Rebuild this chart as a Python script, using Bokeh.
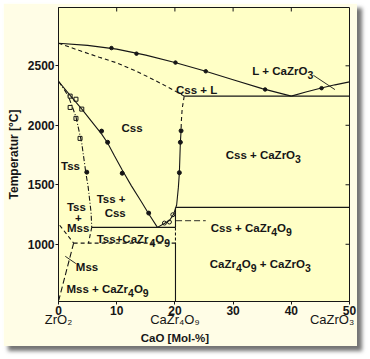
from bokeh.plotting import figure
from bokeh.models import LinearAxis, Label, FixedTicker
from bokeh.embed import file_html
from bokeh.resources import INLINE

FONT = "Liberation Sans"
INK = "#161616"

# ---------------- data ----------------
x_ticks = [0, 10, 20, 30, 40, 50]
y_ticks = [1000, 1500, 2000, 2500]
top_ticks = [10, 20, 30, 40]
compound_ticks = [0, 20, 47]
compound_names = ["ZrO₂", "CaZr₄O₉", "CaZrO₃"]

# liquidus
liq_l_x = [0, 5, 10, 15, 20, 25, 30, 35, 40]
liq_l_y = [2690, 2672, 2640, 2590, 2528, 2458, 2383, 2308, 2245]
liq_r_x = [40, 42.5, 45, 47.5, 50]
liq_r_y = [2245, 2280, 2312, 2340, 2365]
liq_pts_x = [9.1, 13.4, 20.1, 25.3, 35.5, 45.2]
liq_pts_y = [2649, 2602, 2527, 2454, 2301, 2312]

# solidus of Css (dashed)
sol_x = [0, 3.5, 7, 10, 13, 16, 19, 21.6]
sol_y = [2690, 2630, 2572, 2525, 2462, 2392, 2316, 2245]

# eutectic
eut_T = 2245
eut_x = [21.6, 50]

# Css right boundary
css_top_x = [21.6, 21.25, 21.1, 21.06]
css_top_y = [2245, 2140, 2030, 1954]
css_r_x = [21.06, 20.94, 20.77, 20.6, 20.3, 19.8, 19.06, 18.1, 17.0]
css_r_y = [1954, 1857, 1602, 1480, 1330, 1255, 1200, 1172, 1142]
css_r_pts_x = [21.06, 20.94, 20.77]
css_r_pts_y = [1954, 1857, 1602]

# Css left boundary
css_l_x = [0, 1.96, 4.01, 6.05, 7.42, 8.44, 9.63, 10.95, 12.53, 14.24, 15.6, 17.0]
css_l_y = [2370, 2253, 2136, 2010, 1926, 1851, 1742, 1625, 1491, 1357, 1248, 1142]
css_l_pts_x = [7.4, 8.44, 10.95, 15.5]
css_l_pts_y = [1951, 1857, 1597, 1262]

# Tss boundary
tss_x = [0, 1.0, 1.74, 3.0, 4.0, 4.7, 5.1, 5.35, 5.6, 5.71]
tss_y = [2370, 2300, 2239, 2071, 1848, 1600, 1480, 1374, 1265, 1142]
tss_low_x = [5.71, 5.15]
tss_low_y = [1142, 1010]
tss_pts_x = [4.86]
tss_pts_y = [1606]
sq_x = [2.0, 3.0, 4.0, 2.0, 3.0, 3.7]
sq_y = [2245, 2219, 2136, 2150, 2058, 1890]
eutd_pts_x = [18.2, 19.06, 19.64]
eutd_pts_y = [1178, 1187, 1248]

# horizontal invariants
T_eutectoid = 1142
eutd_line_x = [5.71, 20.1]
T_low = 1010
low_line_x = [2.6, 20.1]
T_css = 1310
css_line_x = [20.2, 50]

# CaZr4O9 compound line
x_comp = 20.1
comp_solid_hi = [1310, 1142]
comp_dash = [1142, 1010]
comp_solid_lo = [1010, 519]

# monoclinic side
mss_a_x = [0.2, 2.6]
mss_a_y = [1160, 1010]
mss_b_x = [2.6, 0.05]
mss_b_y = [1010, 530]

# leader lines
lead_l_x = [43.8, 47.5]
lead_l_y = [2420, 2300]
lead_c_x = [20.2, 25.3]
lead_c_y = [1198, 1198]
lead_m_x = [1.16, 2.98]
lead_m_y = [899, 838]

# ---------------- figure ----------------
X0, X1 = 0, 50
Y0, Y1 = 519, 2990
FW, FH = 293, 295

p = figure(width=354, height=343, x_range=(X0, X1), y_range=(Y0, Y1),
           output_backend="svg", toolbar_location=None,
           min_border_left=53, min_border_right=8, min_border_top=4,
           min_border_bottom=41)
p.title.visible = False
p.background_fill_color = "#ffffc6"
p.border_fill_color = "#fffde6"
p.outline_line_color = INK
p.grid.visible = False
p.styles = {"margin-left": "3px", "margin-top": "3px",
            "box-shadow": "5px 5px 4px rgba(0,0,0,0.55)"}

xa = p.xaxis[0]
ya = p.yaxis[0]
xa.ticker = FixedTicker(ticks=x_ticks)
ya.ticker = FixedTicker(ticks=y_ticks)
for ax in (xa, ya):
    ax.major_label_text_font = FONT
    ax.major_label_text_font_style = "bold"
    ax.major_label_text_font_size = "12px"
    ax.major_label_text_color = INK
    ax.major_tick_in = 0
    ax.major_tick_out = 3
    ax.major_tick_line_color = INK
    ax.minor_tick_line_color = None
    ax.axis_line_color = INK
    ax.major_label_standoff = 1
ya.axis_label = "Temperatur [°C]"
ya.axis_label_text_font = FONT
ya.axis_label_text_font_style = "bold"
ya.axis_label_text_font_size = "12px"
ya.axis_label_text_color = INK
ya.axis_label_standoff = 4

# compound names below the composition axis
comp_axis = LinearAxis(ticker=FixedTicker(ticks=compound_ticks),
                       major_label_overrides=dict(zip(compound_ticks, compound_names)),
                       major_tick_in=0, major_tick_out=0, major_tick_line_color=None,
                       minor_tick_line_color=None, axis_line_color=None,
                       major_label_standoff=-6, major_label_text_font=FONT,
                       major_label_text_font_size="13px", major_label_text_color=INK)
p.add_layout(comp_axis, "below")
title_axis = LinearAxis(ticker=FixedTicker(ticks=[20]),
                        major_label_overrides={20: "CaO [Mol-%]"},
                        major_tick_in=0, major_tick_out=0, major_tick_line_color=None,
                        minor_tick_line_color=None, axis_line_color=None,
                        major_label_standoff=2, major_label_text_font=FONT,
                        major_label_text_font_style="bold",
                        major_label_text_font_size="11.5px", major_label_text_color=INK)
p.add_layout(title_axis, "below")

# inward ticks on top and right frame edges
ypx = (Y1 - Y0) / FH
xpx = (X1 - X0) / FW
p.segment(x0=top_ticks, y0=[Y1] * len(top_ticks), x1=top_ticks,
          y1=[Y1 - 4 * ypx] * len(top_ticks), line_color=INK, line_width=1)
p.segment(x0=[X1] * len(y_ticks), y0=y_ticks, x1=[X1 - 4 * xpx] * len(y_ticks),
          y1=y_ticks, line_color=INK, line_width=1)

DASH = "4 3"
lw = 1.1
p.line(liq_l_x, liq_l_y, line_color=INK, line_width=lw)
p.line(liq_r_x, liq_r_y, line_color=INK, line_width=lw)
p.line(sol_x, sol_y, line_color=INK, line_width=lw, line_dash=DASH)
p.line(eut_x, [eut_T, eut_T], line_color=INK, line_width=lw)
p.line(css_top_x, css_top_y, line_color=INK, line_width=lw, line_dash=DASH)
p.line(css_r_x, css_r_y, line_color=INK, line_width=lw)
p.line(css_l_x, css_l_y, line_color=INK, line_width=lw)
p.line(tss_x, tss_y, line_color=INK, line_width=lw, line_dash="5 2 1 2")
p.line(tss_low_x, tss_low_y, line_color=INK, line_width=lw, line_dash=DASH)
p.line(eutd_line_x, [T_eutectoid, T_eutectoid], line_color=INK, line_width=lw)
p.line(low_line_x, [T_low, T_low], line_color=INK, line_width=lw, line_dash=DASH)
p.line(css_line_x, [T_css, T_css], line_color=INK, line_width=lw)
p.line([x_comp, x_comp], comp_solid_hi, line_color=INK, line_width=lw)
p.line([x_comp, x_comp], comp_dash, line_color=INK, line_width=lw, line_dash="3 2")
p.line([x_comp, x_comp], comp_solid_lo, line_color=INK, line_width=lw)
p.line(mss_a_x, mss_a_y, line_color=INK, line_width=lw, line_dash=DASH)
p.line(mss_b_x, mss_b_y, line_color=INK, line_width=lw, line_dash="6 3")
p.line(lead_l_x, lead_l_y, line_color=INK, line_width=0.9)
p.line(lead_c_x, lead_c_y, line_color=INK, line_width=0.9, line_dash="6 3")
p.line(lead_m_x, lead_m_y, line_color=INK, line_width=0.9)

p.scatter(liq_pts_x, liq_pts_y, size=3.5, color=INK)
p.scatter(css_r_pts_x, css_r_pts_y, size=4, color=INK)
p.scatter(css_l_pts_x, css_l_pts_y, size=4, color=INK)
p.scatter(tss_pts_x, tss_pts_y, size=4, color=INK)
p.scatter(sq_x, sq_y, marker="square", size=4, fill_color=None, line_color=INK, line_width=1)
p.scatter(eutd_pts_x, eutd_pts_y, marker="circle", size=4, fill_color=None, line_color=INK, line_width=1)

# ---------------- region texts ----------------
W_BOLD = {' ': 278, '+': 584, '-': 333, '%': 889, '[': 333, ']': 333, '°': 400,
          'C': 722, 'L': 611, 'M': 833, 'O': 778, 'T': 611, 'Z': 611,
          'a': 556, 'l': 278, 'o': 611, 'r': 389, 's': 556, 'e': 556, 'm': 889,
          'p': 611, 't': 333, 'u': 611}


def text_width(s, size):
    return sum(W_BOLD.get(c, 556) for c in s) * size / 1000.0


def parse(s):
    segs, cur, i = [], "", 0
    while i < len(s):
        if s[i] == "_":
            if cur:
                segs.append((cur, False))
                cur = ""
            segs.append((s[i + 1], True))
            i += 2
        else:
            cur += s[i]
            i += 1
    if cur:
        segs.append((cur, False))
    return segs


def add_text(x, y, s, size=11.5):
    off = 0.0
    sub_size = size - 1
    for t, sub in parse(s):
        fs = sub_size if sub else size
        stripped = t.lstrip(" ")
        off += text_width(t[:len(t) - len(stripped)], fs)
        body = stripped.rstrip(" ")
        if body:
            p.add_layout(Label(x=x, y=y, text=body,
                               x_offset=off, y_offset=-4 if sub else 0,
                               text_font=FONT, text_font_style="bold",
                               text_font_size=f"{fs}px", text_color=INK,
                               text_baseline="alphabetic", text_align="left"))
        off += text_width(stripped, fs)


region_labels = [
    (33.3, 2460, "L + CaZrO_3"),
    (20.2, 2299, "Css + L"),
    (10.83, 1974, "Css"),
    (28.73, 1750, "Css + CaZrO_3"),
    (0.43, 1658, "Tss"),
    (6.56, 1379, "Tss +"),
    (7.93, 1260, "Css"),
    (1.45, 1310, "Tss"),
    (2.85, 1224, "+"),
    (1.45, 1134, "Mss"),
    (6.56, 1044, "Tss+CaZr_4O_9"),
    (2.98, 807, "Mss"),
    (1.36, 626, "Mss + CaZr_4O_9"),
    (26.17, 1139, "Css + CaZr_4O_9"),
    (26.0, 835, "CaZr_4O_9 + CaZrO_3"),
]
for x, y, s in region_labels:
    add_text(x, y, s)

open("out.html", "w").write(file_html(p, INLINE))
